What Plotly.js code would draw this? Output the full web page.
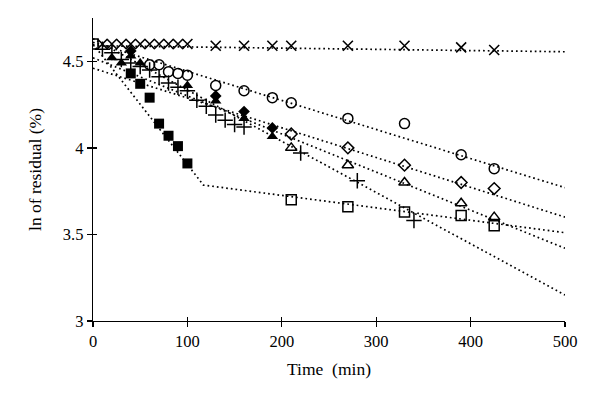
<!DOCTYPE html>
<html>
<head>
<meta charset="utf-8">
<script src="https://cdn.plot.ly/plotly-3.0.1.min.js"></script>
<style>html,body{margin:0;padding:0;background:#fff;}#chart{width:600px;height:401px;}</style>
</head>
<body>
<div id="chart"></div>
<script>
// ---- data ----
const crossT = [10,20,30,40,50,60,70,80,90,100,130,160,190,210,270,330,390,425];
const crossY = [4.6,4.6,4.6,4.6,4.6,4.6,4.6,4.6,4.6,4.6,4.59,4.59,4.59,4.59,4.59,4.59,4.58,4.565];

const circleT = [60,70,80,90,100,130,160,190,210,270,330,390,425];
const circleY = [4.48,4.48,4.44,4.43,4.42,4.36,4.33,4.29,4.26,4.17,4.14,3.96,3.88];

const diamondT = [210,270,330,390,425];
const diamondY = [4.08,4.0,3.9,3.8,3.765];

const diamondFillT = [40,130,160,190];
const diamondFillY = [4.56,4.3,4.21,4.115];

const triangleT = [210,270,330,390,425];
const triangleY = [4.0,3.9,3.8,3.68,3.6];

const triangleFillT = [20,30,40,50,100,130,160,190];
const triangleFillY = [4.52,4.49,4.53,4.49,4.36,4.27,4.17,4.065];

const plusT = [10,20,30,40,50,60,70,80,90,100,110,120,130,140,150,160,220,280,340];
const plusY = [4.57,4.55,4.51,4.49,4.47,4.45,4.41,4.375,4.35,4.33,4.275,4.24,4.19,4.16,4.135,4.12,3.97,3.81,3.58];

const squareFillT = [40,50,60,70,80,90,100];
const squareFillY = [4.43,4.37,4.29,4.14,4.07,4.01,3.91];

const squareT = [0,210,270,330,390,425];
const squareY = [4.6,3.7,3.66,3.63,3.61,3.55];

// fitted (dotted) lines
const fitT = [0,500];
const crossFit = [4.59,4.555];
const circleFit = [4.61,3.77];
const diamondFit = [4.46,3.60];
const triangleFit = [4.52,3.42];
const plusFit = [4.63,3.15];
const squareFitT = [0,117,500];
const squareFit = [4.6,3.785,3.51];

const xTicks = [0,100,200,300,400,500];
const yTicks = [3,3.5,4,4.5];

// ---- styling ----
const dotLine = {color:'#000', width:1.7, dash:'1.7px,3px'};
function fit(x,y){return {x:x,y:y,mode:'lines',line:dotLine,hoverinfo:'skip',showlegend:false};}
function pts(x,y,sym,size,lw){return {x:x,y:y,mode:'markers',showlegend:false,
  marker:{symbol:sym,size:size,color:'#000',line:{color:'#000',width:lw}}};}

const traces = [
  fit(fitT,crossFit), fit(fitT,circleFit), fit(fitT,diamondFit),
  fit(fitT,triangleFit), fit(fitT,plusFit), fit(squareFitT,squareFit),
  pts(crossT,crossY,'x-thin-open',10,1.6),
  pts(circleT,circleY,'circle-open',10,1.5),
  pts(diamondT,diamondY,'diamond-open',9,1.5),
  pts(diamondFillT,diamondFillY,'diamond',9,0),
  pts(triangleT,triangleY,'triangle-up-open',10,1.5),
  pts(triangleFillT,triangleFillY,'triangle-up',10,0),
  pts(plusT,plusY,'cross-thin-open',11,1.5),
  pts(squareFillT,squareFillY,'square',10,0),
  pts(squareT,squareY,'square-open',10,1.5),
  {x:crossT,y:crossY,xaxis:'x2',yaxis:'y2',mode:'markers',marker:{opacity:0},hoverinfo:'skip',showlegend:false}
];

const fam = '"Liberation Serif","DejaVu Serif",serif';
const layout = {
  width:600, height:401,
  margin:{l:93, r:35, t:18, b:80},
  paper_bgcolor:'#fff', plot_bgcolor:'#fff',
  font:{family:fam, color:'#000', size:16}, showlegend:false,
  xaxis:{range:[0,500], tickvals:xTicks, ticktext:xTicks.map(String), showgrid:false, zeroline:false,
    showline:true, linecolor:'#000', linewidth:1.3, ticks:'outside', ticklen:5, tickwidth:1.3, tickcolor:'#000',
    tickfont:{family:fam,size:16.5,color:'#000'},
    title:{text:'Time  (min)', font:{family:fam,size:17.5,color:'#000'}, standoff:12}},
  yaxis:{range:[3,4.75], tickvals:yTicks, ticktext:['3','3.5','4','4.5'], showgrid:false, zeroline:false,
    showline:true, linecolor:'#000', linewidth:1.3, ticks:'outside', ticklen:5, tickwidth:1.3, tickcolor:'#000',
    tickfont:{family:fam,size:16.5,color:'#000'},
    title:{text:'ln of residual (%)', font:{family:fam,size:17.5,color:'#000'}, standoff:16}},
  xaxis2:{overlaying:'x', range:[0,500], tickvals:xTicks, showticklabels:false, showgrid:false, zeroline:false,
    showline:false, ticks:'inside', ticklen:4, tickwidth:1.3, tickcolor:'#000', side:'bottom'},
  yaxis2:{overlaying:'y', range:[3,4.75], tickvals:yTicks, showticklabels:false, showgrid:false, zeroline:false,
    showline:false, ticks:'inside', ticklen:4, tickwidth:1.3, tickcolor:'#000', side:'left'}
};
Plotly.newPlot('chart', traces, layout, {displayModeBar:false, staticPlot:true});
</script>
</body>
</html>
